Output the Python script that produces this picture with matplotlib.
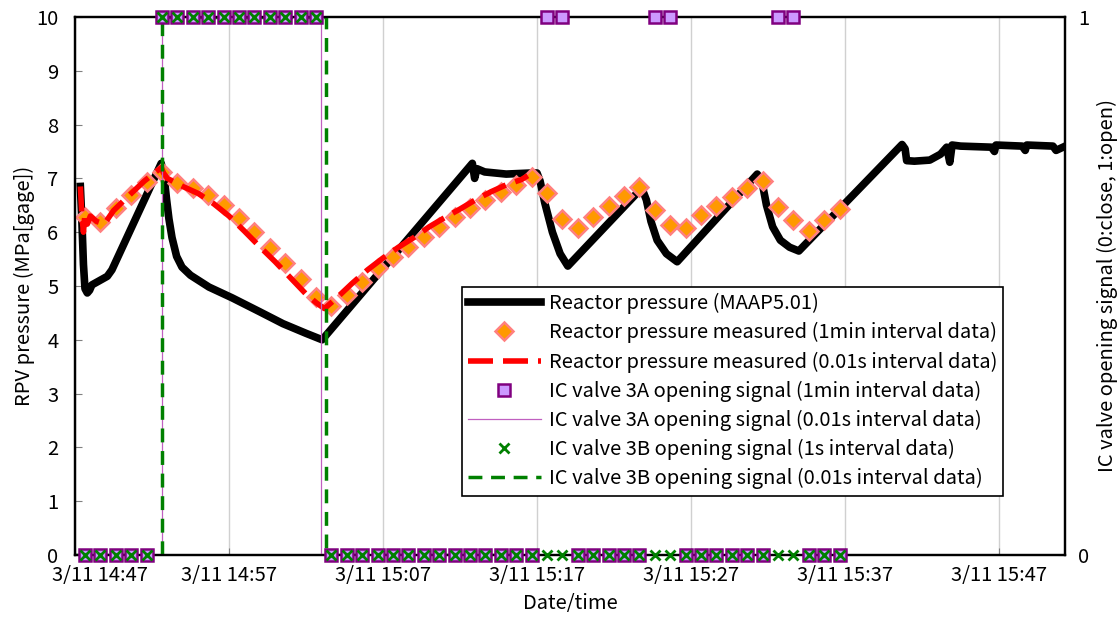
import numpy as np
import matplotlib
matplotlib.use('Agg')
import matplotlib.pyplot as plt

plt.rcParams['font.family'] = ['Noto Sans CJK JP', 'DejaVu Sans']

# x values are minutes after 3/11 14:47
tick_pos = [0, 10, 20, 30, 40, 50, 60]
tick_labels = ['3/11 14:47', '3/11 14:57', '3/11 15:07', '3/11 15:17',
               '3/11 15:27', '3/11 15:37', '3/11 15:47']

# Reactor pressure (MAAP5.01)
maap_t = [0.35, 0.45, 0.55, 0.65, 0.8, 0.95, 1.1, 1.6, 2.1, 2.4, 5.6, 5.8, 5.95, 6.1,
          6.3, 6.6, 6.95, 7.5, 8.7, 10.2, 12.0, 13.5, 15.0, 16.05, 25.8, 25.95, 26.1,
          26.6, 28.0, 29.6, 30.0, 30.2, 30.5, 31.0, 31.5, 32.0, 36.8, 37.1, 37.4, 37.8,
          38.4, 39.1, 44.3, 44.6, 44.9, 45.3, 45.8, 46.4, 47.0, 53.7, 53.9, 54.0, 54.5,
          55.5, 56.2, 56.6, 56.8, 56.95, 57.5, 59.5, 59.7, 59.8, 61.5, 61.7, 61.8, 63.5,
          63.7, 64.3]
maap_p = [6.85, 6.2, 5.4, 4.95, 4.87, 4.92, 5.02, 5.1, 5.18, 5.3, 7.28, 7.0, 6.6, 6.25,
          5.9, 5.55, 5.35, 5.2, 4.98, 4.78, 4.52, 4.3, 4.12, 4.0, 7.28, 7.0, 7.18,
          7.12, 7.08, 7.1, 7.1, 6.95, 6.55, 6.0, 5.6, 5.37, 6.82, 6.6, 6.2, 5.85,
          5.6, 5.45, 7.08, 6.95, 6.5, 6.1, 5.85, 5.72, 5.65, 7.63, 7.55, 7.33, 7.32,
          7.34, 7.45, 7.58, 7.3, 7.62, 7.6, 7.58, 7.5, 7.62, 7.6, 7.52, 7.62, 7.6,
          7.52, 7.6]

# Reactor pressure measured, 1 min interval data
meas_t = np.arange(50) + 0.65
meas_p = [6.28, 6.19, 6.45, 6.69, 6.93, 7.12, 6.91, 6.82, 6.69, 6.51,
          6.26, 6.00, 5.71, 5.43, 5.13, 4.80, 4.62, 4.83, 5.07, 5.33,
          5.54, 5.72, 5.91, 6.10, 6.28, 6.45, 6.60, 6.75, 6.88, 7.03,
          6.73, 6.25, 6.08, 6.28, 6.49, 6.67, 6.84, 6.41, 6.13, 6.08,
          6.32, 6.49, 6.65, 6.82, 6.95, 6.47, 6.23, 6.02, 6.23, 6.43]

# Reactor pressure measured, 0.01 s interval data
fast_t = [0.35, 0.45, 0.55, 0.65, 0.8, 1.0, 1.4, 1.9, 2.5, 3.5, 4.5, 5.6, 5.75, 6.0,
          7.0, 8.0, 9.0, 10.0, 11.0, 12.0, 13.0, 14.0, 15.0, 15.7, 16.2, 17.0, 18.0,
          19.0, 20.0, 21.0, 22.0, 23.0, 24.0, 25.0, 26.0, 27.0, 28.0, 29.0, 29.4]
fast_p = [6.85, 6.3, 6.0, 6.35, 6.15, 6.3, 6.2, 6.15, 6.4, 6.68, 6.95, 7.2, 7.1, 7.0,
          6.85, 6.72, 6.53, 6.3, 6.02, 5.73, 5.45, 5.15, 4.85, 4.68, 4.58, 4.78, 5.05,
          5.3, 5.52, 5.72, 5.9, 6.1, 6.27, 6.43, 6.6, 6.75, 6.88, 6.98, 7.05]

# IC valve signals, 1 min / 1 s data (0: close, 1: open)
valve_3a = [0, 0, 0, 0, 0, 1, 1, 1, 1, 1, 1, 1, 1, 1, 1, 1, 0, 0, 0, 0,
            0, 0, 0, 0, 0, 0, 0, 0, 0, 0, 1, 1, 0, 0, 0, 0, 0, 1, 1, 0,
            0, 0, 0, 0, 0, 1, 1, 0, 0, 0]
valve_3b = [0, 0, 0, 0, 0, 1, 1, 1, 1, 1, 1, 1, 1, 1, 1, 1, 0, 0, 0, 0,
            0, 0, 0, 0, 0, 0, 0, 0, 0, 0, 0, 0, 0, 0, 0, 0, 0, 0, 0, 0,
            0, 0, 0, 0, 0, 0, 0, 0, 0, 0]

# IC valve signals, 0.01 s data
v3a_fast_t = [0.0, 5.64, 5.64, 16.0, 16.0, 29.6]
v3a_fast = [0, 0, 1, 1, 0, 0]
v3b_fast_t = [-0.2, 5.68, 5.68, 16.33, 16.33, 29.6]
v3b_fast = [0, 0, 1, 1, 0, 0]

fig = plt.figure(figsize=(11.19, 6.18), dpi=100)
ax = fig.add_axes([0.067, 0.102, 0.885, 0.8705])
ax2 = ax.twinx()

h1, = ax.plot(maap_t, maap_p, color='black', lw=5.5, solid_joinstyle='round',
              label='Reactor pressure (MAAP5.01)', zorder=2)
h2, = ax.plot(meas_t, meas_p, ls='none', marker='D', ms=9.5, mfc='#ff9900',
              mec='#ff8080', mew=1.8,
              label='Reactor pressure measured (1min interval data)', zorder=3)
h3, = ax.plot(fast_t, fast_p, color='red', lw=4, dashes=(4.5, 1.8),
              label='Reactor pressure measured (0.01s interval data)', zorder=4)

h4, = ax2.plot(meas_t, valve_3a, ls='none', marker='s', ms=9, mfc='#cc99ff',
               mec='#800080', mew=1.8, clip_on=False, zorder=4,
               label='IC valve 3A opening signal (1min interval data)')
h5, = ax2.plot(v3a_fast_t, v3a_fast, color='#c060c0', lw=0.9, zorder=2,
               label='IC valve 3A opening signal (0.01s interval data)')
h6, = ax2.plot(meas_t, valve_3b, ls='none', marker='x', ms=7.5, mec='#008000',
               mew=2, clip_on=False, zorder=5,
               label='IC valve 3B opening signal (1s interval data)')
h7, = ax2.plot(v3b_fast_t, v3b_fast, color='#008000', lw=2.5, dashes=(4, 2.5),
               zorder=2, clip_on=True,
               label='IC valve 3B opening signal (0.01s interval data)')

ax.set_xlim(0, 64.3)
ax.set_ylim(0, 10)
ax2.set_ylim(0, 1)

ax.set_xticks(tick_pos)
# first date label is drawn separately, shifted right as in the original
ax.set_xticklabels([''] + tick_labels[1:], fontsize=14.5)
ax.annotate(tick_labels[0], xy=(tick_pos[0], 0), xycoords=('data', 'axes fraction'),
            xytext=(25, -10), textcoords='offset pixels', ha='center', va='top',
            fontsize=14.5)
ax.set_yticks(range(0, 11))
ax.tick_params(axis='y', labelsize=14.5, direction='in', length=5, color='#808080', pad=12)
ax.tick_params(axis='x', direction='in', length=5, color='#808080', pad=7)
ax2.set_yticks([0, 1])
ax2.tick_params(axis='y', labelsize=14.5, direction='in', length=5, color='#808080', pad=9)

ax.grid(axis='x', color='#d0d0d0', lw=1)
ax.set_axisbelow(True)
for a in (ax, ax2):
    for s in a.spines.values():
        s.set_linewidth(1.6)
        s.set_color('black')

ax.set_xlabel('Date/time', fontsize=14.5, labelpad=5)
ax.set_ylabel('RPV pressure (MPa[gage])', fontsize=14.5, labelpad=1)
ax2.set_ylabel('IC valve opening signal (0:close, 1:open)', fontsize=14.5, labelpad=6)

leg = ax2.legend(handles=[h1, h2, h3, h4, h5, h6, h7], loc='upper left',
                 bbox_to_anchor=(462 / 1119, 1 - 287 / 618),
                 bbox_transform=fig.transFigure, fontsize=14.5, frameon=True,
                 fancybox=False, edgecolor='black', framealpha=1,
                 handlelength=3.6, labelspacing=0.4, borderpad=0.3,
                 handletextpad=0.4, borderaxespad=0)
leg.get_frame().set_linewidth(1.2)

fig.savefig('out.png', dpi=100)
